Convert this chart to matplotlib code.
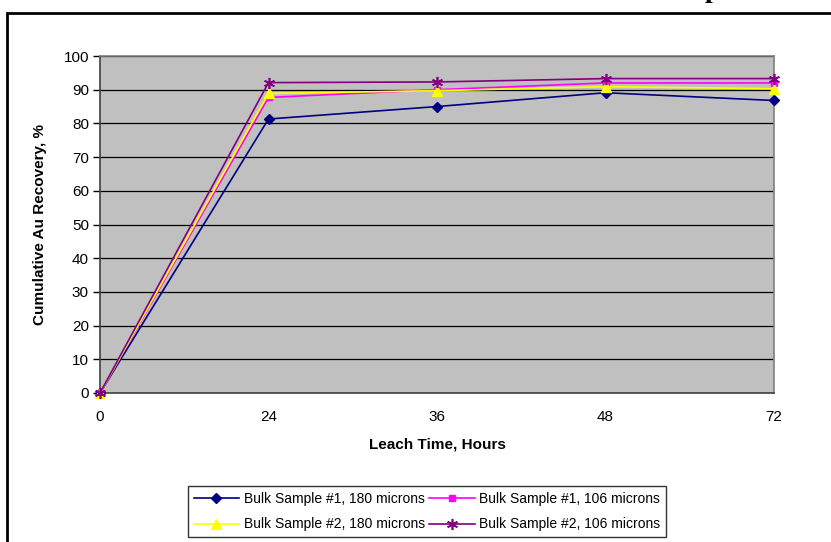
import numpy as np
import matplotlib
matplotlib.use('Agg')
import matplotlib.pyplot as plt
from matplotlib.patches import Rectangle

# leach times (categories, equally spaced like an Excel line chart)
hours = ['0', '24', '36', '48', '72']

# cumulative Au recovery, %
bulk1_180 = [0, 81.3, 85.0, 89.1, 86.8]
bulk1_106 = [0, 87.7, 90.0, 92.0, 92.0]
bulk2_180 = [0, 88.9, 89.7, 90.9, 90.3]
bulk2_106 = [0, 92.1, 92.3, 93.3, 93.3]

plt.rcParams['font.family'] = ['Liberation Sans', 'DejaVu Sans']

fig = plt.figure(figsize=(8.31, 5.42), dpi=100)
W, H = 831.0, 542.0
ax = fig.add_axes([100 / W, 1 - 393 / H, 674 / W, 337 / H])

x = np.arange(len(hours))
ax.set_facecolor('#C0C0C0')
ax.set_axisbelow(True)
ax.yaxis.grid(True, color='black', lw=0.9)

l1, = ax.plot(x, bulk1_180, color='#000080', marker='D', ms=5.5, lw=1.2,
              label='Bulk Sample #1, 180 microns', clip_on=False, zorder=3)
l2, = ax.plot(x, bulk1_106, color='#FF00FF', marker='s', ms=5, lw=1.2,
              label='Bulk Sample #1, 106 microns', clip_on=False, zorder=3)
l3, = ax.plot(x, bulk2_180, color='#FFFF00', marker='^', ms=7, lw=1.2,
              label='Bulk Sample #2, 180 microns', clip_on=False, zorder=3)
l4, = ax.plot(x, bulk2_106, color='#800080', marker=(6, 2, 0), ms=8, lw=1.2, mew=1.2,
              label='Bulk Sample #2, 106 microns', clip_on=False, zorder=3)

ax.set_xlim(0, len(hours) - 1)
ax.set_ylim(0, 100)
ax.set_yticks(np.arange(0, 101, 10))
ax.set_xticks(x)
ax.set_xticklabels(hours)
ax.tick_params(axis='y', direction='out', length=5, width=1, labelsize=11, pad=3)
ax.tick_params(axis='x', length=0, labelsize=11, pad=12)

for s in ['top', 'right']:
    ax.spines[s].set_color('#808080')
    ax.spines[s].set_linewidth(1.2)
for s in ['left', 'bottom']:
    ax.spines[s].set_color('#404040')
    ax.spines[s].set_linewidth(1.2)

ax.set_xlabel('Leach Time, Hours', fontsize=11, fontweight='bold', labelpad=10)
ax.set_ylabel('Cumulative Au Recovery, %', fontsize=11, fontweight='bold', labelpad=12)

# column-wise fill order so rows read #1 / #2
handles = [l1, l3, l2, l4]
leg = fig.legend(handles, [h.get_label() for h in handles],
                 loc='upper left', bbox_to_anchor=(188 / W, 1 - 486 / H), ncol=2,
                 borderaxespad=0, fontsize=10, frameon=True, fancybox=False,
                 edgecolor='black', handlelength=3.3, columnspacing=0.3,
                 handletextpad=0.3, borderpad=0.4, labelspacing=0.85)
leg.get_frame().set_linewidth(1.0)

# outer chart frame, cut off at the right and bottom
fig.patches.append(Rectangle((7 / W, -0.05), 1.0, 1 - 13 / H + 0.05,
                             transform=fig.transFigure, fill=False,
                             edgecolor='black', lw=2))

# title cut off at the top edge
fig.text(712 / W, 1 + 3 / H, 'p', fontsize=20, fontweight='bold',
         family='Liberation Serif', ha='center', va='baseline')

fig.savefig('out.png', dpi=100)
